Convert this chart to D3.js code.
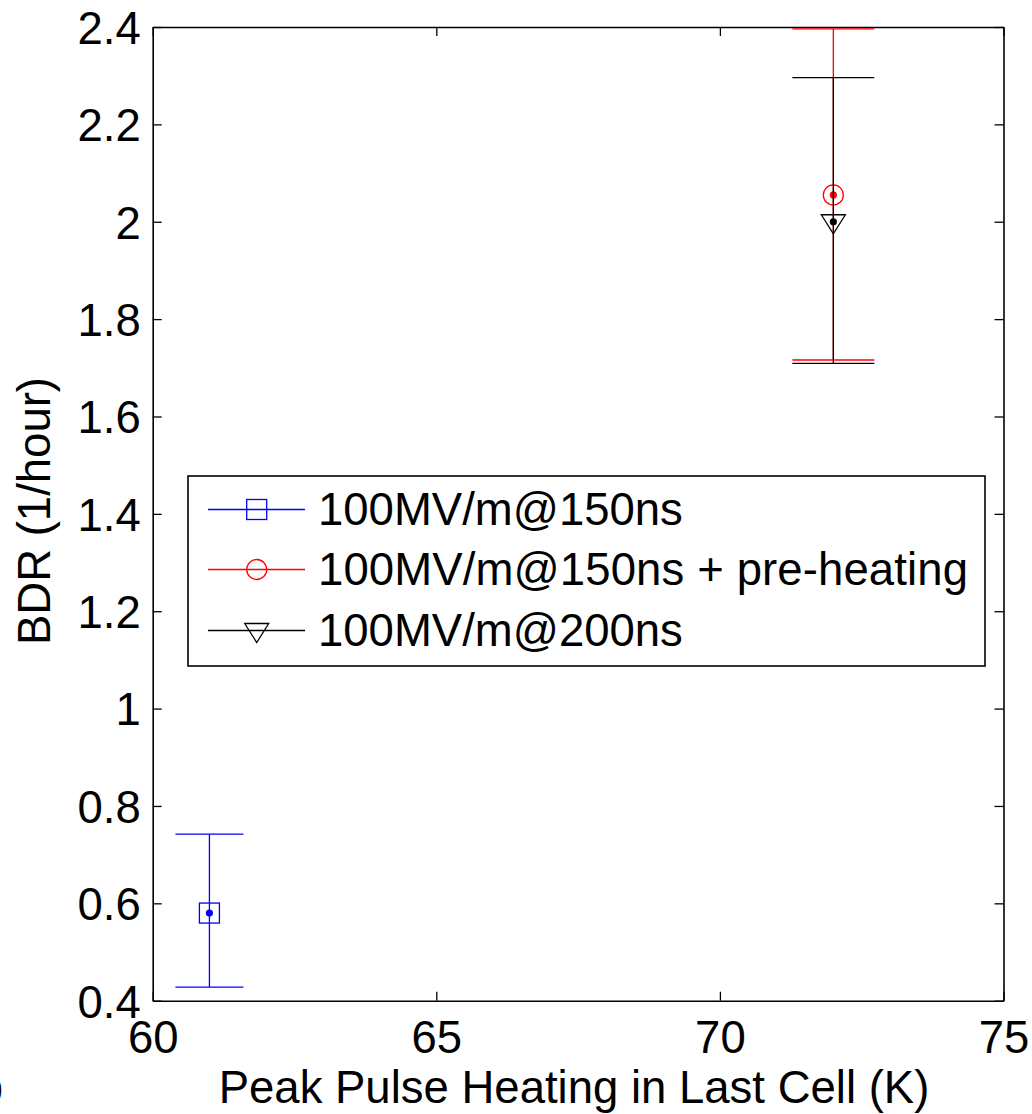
<!DOCTYPE html>
<html lang="en">

<head>
  <meta charset="UTF-8">
  <title>BDR vs peak pulse heating</title>
  <style>
    body {
      margin: 0;
      background: #fff;
    }

    svg text {
      font-family: "Liberation Sans", Arial, sans-serif;
    }
  </style>
</head>

<body>

  <script src="https://d3js.org/d3.v7.min.js"></script>

  <script>
    // series
    const seriesNames = ["100MV/m@150ns", "100MV/m@150ns + pre-heating", "100MV/m@200ns"];
    const seriesColors = ["#0000ff", "#ff0000", "#000000"];
    const seriesMarkers = ["square", "circle", "triangle"];
    const heating = [61, 72, 72];          // K
    const bdr = [0.58, 2.055, 2.0];        // 1/hour
    const bdrLow = [0.428, 1.716, 1.709];
    const bdrHigh = [0.742, 2.396, 2.296];
    const capHalf = [34, 41, 41];

    // ticks
    const xTicks = [60, 65, 70, 75];
    const yTicks = [0.4, 0.6, 0.8, 1, 1.2, 1.4, 1.6, 1.8, 2, 2.2, 2.4];
    const yTickLabels = ["0.4", "0.6", "0.8", "1", "1.2", "1.4", "1.6", "1.8", "2", "2.2", "2.4"];

    const W = 1032, H = 1114;
    const plotL = 152.7, plotR = 1003.5, plotT = 27, plotB = 1000.7;
    const fs = 45.5;

    const svg = d3.select("body")
      .append("svg")
      .attr("width", W)
      .attr("height", H);

    const x = d3.scaleLinear().domain([60, 75]).range([plotL, plotR]);
    const y = d3.scaleLinear().domain([0.4, 2.4]).range([plotB, plotT]);

    // axes, ticks inward on all four sides
    const styleAxis = (g) => {
      g.select(".domain").attr("stroke", "#000").attr("stroke-width", 1.6);
      g.selectAll(".tick line").attr("stroke", "#000").attr("stroke-width", 1.3);
      g.selectAll("text").attr("font-size", fs).attr("fill", "#000")
        .attr("font-family", "'Liberation Sans', Arial, sans-serif");
    };

    svg.append("g")
      .attr("transform", `translate(0,${plotB})`)
      .call(d3.axisBottom(x).tickValues(xTicks).tickSize(-9).tickSizeOuter(0).tickPadding(20).tickFormat(d3.format("d")))
      .call(styleAxis);

    svg.append("g")
      .attr("transform", `translate(0,${plotT})`)
      .call(d3.axisTop(x).tickValues(xTicks).tickSize(-9).tickSizeOuter(0).tickFormat(""))
      .call(styleAxis);

    svg.append("g")
      .attr("transform", `translate(${plotL},0)`)
      .call(d3.axisLeft(y).tickValues(yTicks).tickSize(-9).tickSizeOuter(0).tickPadding(12)
        .tickFormat((d, i) => yTickLabels[i]))
      .call(styleAxis)
      .selectAll("text").attr("dy", "0.36em");

    svg.append("g")
      .attr("transform", `translate(${plotR},0)`)
      .call(d3.axisRight(y).tickValues(yTicks).tickSize(-9).tickSizeOuter(0).tickFormat(""))
      .call(styleAxis);

    // axis titles
    svg.append("text")
      .attr("x", 574)
      .attr("y", 1103)
      .attr("text-anchor", "middle")
      .attr("font-size", fs)
      .text("Peak Pulse Heating in Last Cell (K)");

    svg.append("text")
      .attr("transform", "translate(50,511) rotate(-90)")
      .attr("text-anchor", "middle")
      .attr("font-size", fs)
      .text("BDR (1/hour)");

    // panel letter, cut by the left edge as in the original
    svg.append("text")
      .attr("x", 3)
      .attr("y", 1103)
      .attr("text-anchor", "end")
      .attr("font-size", fs)
      .text("b");

    function marker(g, type, color, cx, cy) {
      if (type === "square") {
        g.append("rect")
          .attr("x", cx - 10).attr("y", cy - 10)
          .attr("width", 20).attr("height", 20)
          .attr("fill", "none").attr("stroke", color).attr("stroke-width", 1.3);
      } else if (type === "circle") {
        g.append("circle")
          .attr("cx", cx).attr("cy", cy).attr("r", 10)
          .attr("fill", "none").attr("stroke", color).attr("stroke-width", 1.3);
      } else {
        g.append("path")
          .attr("d", `M${cx - 12},${cy - 7}L${cx + 12},${cy - 7}L${cx},${cy + 12}Z`)
          .attr("fill", "none").attr("stroke", color).attr("stroke-width", 1.3);
      }
    }

    // error bars and points
    seriesNames.forEach((name, i) => {
      const g = svg.append("g");
      const cx = x(heating[i]);
      const c = seriesColors[i];
      g.append("line")
        .attr("x1", cx).attr("x2", cx)
        .attr("y1", y(bdrLow[i])).attr("y2", y(bdrHigh[i]))
        .attr("stroke", c).attr("stroke-width", 1.3);
      [bdrLow[i], bdrHigh[i]].forEach(v => {
        g.append("line")
          .attr("x1", cx - capHalf[i]).attr("x2", cx + capHalf[i])
          .attr("y1", y(v)).attr("y2", y(v))
          .attr("stroke", c).attr("stroke-width", 1.3);
      });
      marker(g, seriesMarkers[i], c, cx, y(bdr[i]));
      g.append("circle")
        .attr("cx", cx).attr("cy", y(bdr[i])).attr("r", 3.6)
        .attr("fill", c);
    });

    // legend
    const lg = svg.append("g");
    lg.append("rect")
      .attr("x", 188).attr("y", 476)
      .attr("width", 797).attr("height", 190)
      .attr("fill", "#fff").attr("stroke", "#000").attr("stroke-width", 1.6);

    const rowY = [509.5, 569.5, 630.5];
    seriesNames.forEach((name, i) => {
      const ry = rowY[i];
      lg.append("line")
        .attr("x1", 208).attr("x2", 305)
        .attr("y1", ry).attr("y2", ry)
        .attr("stroke", seriesColors[i]).attr("stroke-width", 1.3);
      marker(lg, seriesMarkers[i], seriesColors[i], 256.7, ry);
      lg.append("text")
        .attr("x", 318).attr("y", ry + 15.5)
        .attr("font-size", fs)
        .attr("textLength", i === 1 ? 650 : null)
        .text(name);
    });
  </script>
</body>

</html>
